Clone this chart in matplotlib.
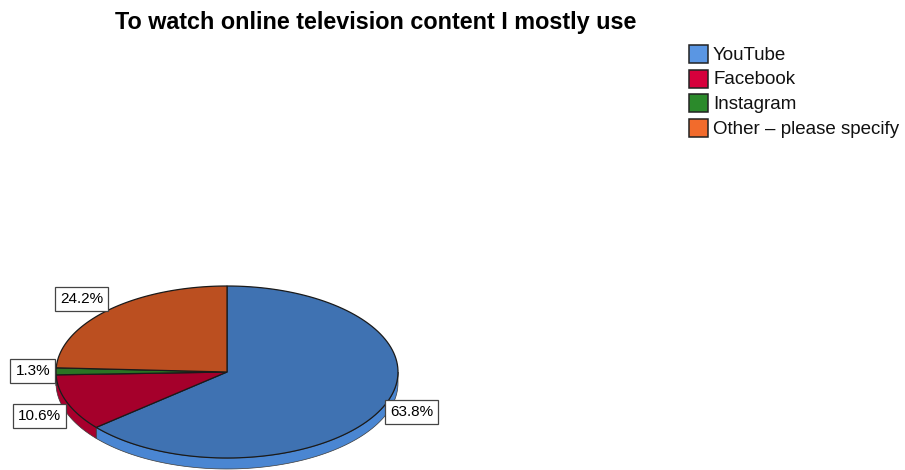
import numpy as np
import matplotlib.pyplot as plt
from matplotlib.patches import Polygon, Rectangle

plt.rcParams['font.family'] = ['Liberation Sans', 'DejaVu Sans']

title = "To watch online television content I mostly use"
labels = ["YouTube", "Facebook", "Instagram", "Other \u2013 please specify"]
shares = [63.8, 10.6, 1.3, 24.2]
top_colors = ["#3f72b2", "#a5002b", "#2a7424", "#bb4f20"]
side_colors = ["#4a86d2", "#a8002d", "#2a7424", "#bb4f20"]
legend_colors = ["#5a96e3", "#d6003c", "#2b8a2b", "#f26b2c"]

W, H = 905, 470
fig = plt.figure(figsize=(W / 100, H / 100), dpi=100)
ax = fig.add_axes([0, 0, 1, 1])
ax.set_xlim(0, W)
ax.set_ylim(H, 0)
ax.axis("off")

cx, cy, rx, ry, depth = 227, 372, 171, 86, 11


def pt(a, dz=0):
    r = np.radians(a)
    return cx + rx * np.cos(r), cy - ry * np.sin(r) + dz


# angles: start at 12 o'clock, clockwise
fr = np.array(shares) / sum(shares)
ends = 90 - 360 * np.cumsum(fr)
starts = np.concatenate([[90], ends[:-1]])

# side walls (front half: angles between 180 and 360)
for s, e, c in zip(starts, ends, side_colors):
    a0, a1 = e % 360, s % 360
    if a1 <= a0:
        a1 += 360
    lo, hi = max(a0, 180), min(a1, 360)
    if hi <= lo:
        lo, hi = max(a0 - 360, 180), min(a1 - 360, 360)
    if hi <= lo:
        continue
    ang = np.linspace(lo, hi, 80)
    top = [pt(a) for a in ang]
    bot = [pt(a, depth) for a in ang[::-1]]
    ax.add_patch(Polygon(top + bot, closed=True, facecolor=c,
                         edgecolor="#3a3a3a", lw=0.5, zorder=1))

# top wedges
for s, e, c in zip(starts, ends, top_colors):
    ang = np.linspace(s, e, 120)
    verts = [(cx, cy)] + [pt(a) for a in ang]
    ax.add_patch(Polygon(verts, closed=True, facecolor=c,
                         edgecolor="#1a1a1a", lw=0.9, zorder=2))

# percentage labels
for s, e, v in zip(starts, ends, shares):
    m = (s + e) / 2
    x, y = pt(m)
    cs, sn = np.cos(np.radians(m)), np.sin(np.radians(m))
    ha = "left" if cs > 0 else "right"
    if sn > 0.5:
        va = "bottom"
        y -= 4
    elif sn < 0 and cs < 0:
        va = "top"
        y += 6
    else:
        va = "center"
        if sn < 0:
            y += depth * 0.35
    ax.text(x + (8 if cs > 0 else -6), y, f"{v:.1f}%", ha=ha, va=va,
            fontsize=11, zorder=5,
            bbox=dict(boxstyle="square,pad=0.32", fc="white",
                      ec="#444444", lw=0.9))

# legend
lx, ly, step = 689, 45, 24.7
for i, (lab, c) in enumerate(zip(labels, legend_colors)):
    y0 = ly + i * step
    ax.add_patch(Rectangle((lx, y0), 19, 18, facecolor=c,
                           edgecolor="#222222", lw=1.1, zorder=3))
    ax.text(lx + 24, y0 + 10, lab, ha="left", va="center", fontsize=13.5,
            color="#111111")

ax.text(376, 23, title, ha="center", va="center", fontsize=16.8,
        fontweight="bold")

fig.savefig("out.png", dpi=100, facecolor="white")
